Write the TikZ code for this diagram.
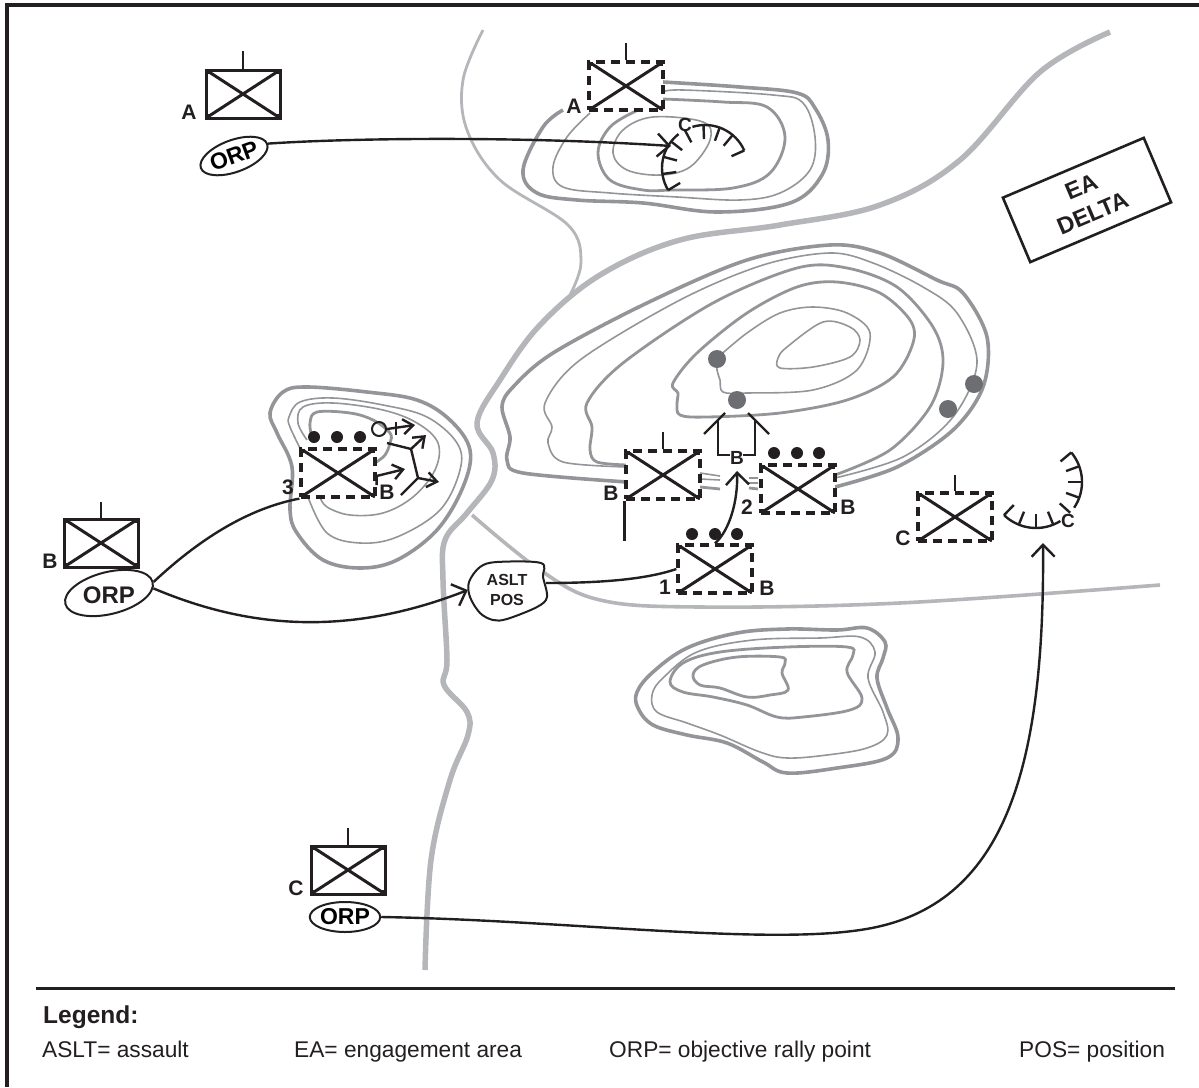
\documentclass[tikz,border=0pt]{standalone}
\usepackage{fontspec}
\setmainfont{Liberation Sans}
\usetikzlibrary{arrows.meta,shapes.geometric}
\definecolor{ink}{HTML}{231F20}
\definecolor{hill}{HTML}{939598}
\definecolor{road}{HTML}{B4B6B9}
\definecolor{spot}{HTML}{6D6E71}
\tikzset{
	thick hill/.style={draw=hill,line width=3.6pt},
	mid hill/.style={draw=hill,line width=2.8pt},
	thin hill/.style={draw=hill,line width=1.6pt},
	main road/.style={draw=road,line width=5.5pt},
	side road/.style={draw=road,line width=2.8pt},
	route/.style={draw=ink,line width=2.4pt,>={Straight Barb[length=12pt,width=23pt,line width=2.4pt]}},
	small route/.style={draw=ink,line width=2.4pt,>={Straight Barb[length=10pt,width=15pt,line width=2.4pt]}},
	mark line/.style={draw=ink,line width=2.4pt},
	unitbox/.style={draw=ink,line width=3pt,minimum width=74pt,minimum height=48pt,inner sep=0pt,
		path picture={\draw[ink,solid,line width=3pt] (path picture bounding box.north west)--(path picture bounding box.south east);
			\draw[ink,solid,line width=3pt] (path picture bounding box.north east)--(path picture bounding box.south west);
			\fill[ink] (path picture bounding box.north west) rectangle ++(4pt,-4pt);
			\fill[ink] (path picture bounding box.north east) rectangle ++(-4pt,-4pt);
			\fill[ink] (path picture bounding box.south west) rectangle ++(4pt,4pt);
			\fill[ink] (path picture bounding box.south east) rectangle ++(-4pt,4pt);}},
	dashbox/.style={unitbox,line width=3.2pt,dash pattern=on 9pt off 6pt},
	orpnode/.style={draw=ink,line width=2pt,ellipse,inner sep=0pt,font=\fontsize{23}{25}\bfseries\selectfont},
	tag/.style={text=ink,inner sep=0pt,font=\fontsize{21}{23}\bfseries\selectfont},
	small tag/.style={text=ink,inner sep=0pt,font=\fontsize{19}{21}\bfseries\selectfont},
	dot/.style={circle,fill=ink,inner sep=0pt,minimum size=12pt},
	graydot/.style={circle,fill=spot,inner sep=0pt,minimum size=18pt},
	legend/.style={anchor=base west,text=ink,inner sep=0pt,font=\fontsize{22.7}{25}\selectfont}
}
\begin{document}
\begin{tikzpicture}[x=1pt,y=-1pt]
	\useasboundingbox (0,0) rectangle (1199,1087);
	\draw[ink,line width=3.4pt] (7,1087)--(7,5)--(1199,5);
	\draw[ink,line width=3pt] (36,988)--(1175,988);
	% roads
	\draw[side road] plot[smooth,tension=0.6] coordinates {(483,30)(463,80)(467,130)(500,180)(568,225)(581,262)(570,295)};
	\draw[main road] plot[smooth,tension=0.6] coordinates {(1110,32)(1040,72)(960,160)(880,205)(780,225)(680,240)(600,275)(540,325)(500,380)(477,423)(493,453)(492,480)(467,513)(445,540)(443,580)(447,660)(444,685)(467,712)(468,735)(450,780)(431,860)(425,970)};
	\draw[draw=road,line width=3.6pt] plot[smooth,tension=0.6] coordinates {(472,515)(540,570)(600,600)(700,607)(900,603)(1160,585)};
	% top hill
	\draw[thick hill] plot[smooth,tension=0.6] coordinates {(563,110)(543,127)(523,170)(537,193)(577,200)(643,203)(717,212)(790,203)(822,175)(828,140)(815,108)(797,93)(740,87)(663,82)};
	\draw[thin hill] plot[smooth,tension=0.6] coordinates {(590,113)(567,137)(553,167)(563,187)(610,193)(677,197)(740,200)(780,193)(810,170)(815,137)(803,103)(773,95)(683,90)(663,92)};
	\draw[mid hill] plot[smooth,tension=0.6] coordinates {(663,99)(723,102)(767,107)(785,137)(770,173)(733,188)(673,190)(643,190)(610,180)(598,153)(610,127)(636,111)};
	\draw[thin hill] plot[smooth cycle,tension=0.6] coordinates {(613,153)(623,130)(653,117)(703,122)(710,140)(690,167)(660,175)(627,170)};
	% big hill
	\draw[thick hill] plot[smooth,tension=0.55] coordinates {(627,482)(523,473)(507,460)(510,437)(502,407)(513,387)(553,353)(647,303)(747,260)(830,245)(880,253)(937,280)(963,293)(987,337)(983,387)(953,430)(897,467)(835,487)};
	\draw[thin hill] plot[smooth,tension=0.55] coordinates {(627,467)(563,462)(548,443)(552,427)(545,403)(580,360)(680,300)(763,265)(830,253)(873,263)(923,287)(957,313)(977,363)(953,417)(903,457)(835,478)};
	\draw[mid hill] plot[smooth,tension=0.55] coordinates {(627,465)(597,462)(590,450)(592,427)(587,403)(623,363)(713,303)(797,268)(847,268)(897,287)(933,327)(943,363)(930,407)(890,450)(835,475)};
	\draw[mid hill] plot[smooth cycle,tension=0.55] coordinates {(680,415)(677,403)(678,393)(673,383)(697,353)(747,313)(797,287)(837,282)(880,293)(910,320)(913,343)(893,377)(847,400)(780,413)(707,417)};
	\draw[thin hill] plot[smooth,tension=0.55] coordinates {(717,358)(747,333)(780,313)(813,307)(847,313)(870,333)(857,370)(813,390)(747,393)(723,392)(720,380)(717,370)(717,358)};
	\draw[thin hill] plot[smooth cycle,tension=0.55] coordinates {(778,358)(787,347)(823,322)(850,327)(860,340)(850,357)(813,367)(780,368)};
	\draw[thin hill] (700,473)--(720,476) (700,479)--(720,480) (749,478)--(758,478) (749,483)--(758,483);
	\draw[mid hill] (700,487)--(720,489) (749,488)--(758,489);
	% left hill
	\draw[thick hill] plot[smooth cycle,tension=0.6] coordinates {(270,413)(283,392)(307,387)(367,392)(417,400)(450,420)(470,450)(463,487)(437,530)(397,560)(360,568)(323,560)(297,533)(290,510)(292,467)(277,433)};
	\draw[thin hill] plot[smooth,tension=0.6] coordinates {(300,448)(290,427)(289,417)(300,402)(333,398)(383,405)(427,417)(457,443)(460,470)(440,510)(397,537)(360,543)(327,533)(308,497)};
	\draw[thin hill] plot[smooth,tension=0.6] coordinates {(307,440)(298,423)(303,407)(333,403)(383,410)(417,423)(438,443)(435,470)(413,497)(383,513)(350,515)(327,507)(320,497)};
	\draw[mid hill] plot[smooth,tension=0.6] coordinates {(312,438)(310,423)(317,412)(350,413)(373,420)(390,433)(390,443)(385,455)(375,463)};
	% bottom hill
	\draw[thick hill] plot[smooth cycle,tension=0.6] coordinates {(637,692)(653,672)(687,648)(737,633)(787,629)(837,630)(867,628)(885,642)(883,658)(877,678)(887,708)(898,738)(887,758)(837,768)(787,773)(763,762)(727,743)(687,735)(653,725)(638,708)};
	\draw[thin hill] plot[smooth cycle,tension=0.6] coordinates {(652,695)(663,678)(697,652)(753,640)(820,638)(860,637)(875,652)(868,678)(883,712)(887,735)(867,748)(827,755)(787,758)(760,752)(720,735)(687,723)(657,712)};
	\draw[mid hill] plot[smooth cycle,tension=0.6] coordinates {(670,682)(683,663)(720,652)(787,647)(847,647)(853,655)(847,672)(862,698)(850,710)(803,717)(777,717)(747,705)(713,697)(683,692)};
	\draw[mid hill] plot[smooth cycle,tension=0.6] coordinates {(693,675)(703,665)(737,657)(780,657)(785,663)(782,673)(788,690)(770,695)(747,697)(720,688)(700,685)};
	% unit symbols
	\node[unitbox,fill=white] (unitA) at (243,94) {};
	\node[unitbox,fill=white] (unitB) at (101,543) {};
	\node[unitbox,fill=white] (unitC) at (348,870) {};
	\node[dashbox,fill=white] (unitAobj) at (626,86) {};
	\node[dashbox,fill=white] (unitBleft) at (663,475) {};
	\node[dashbox,fill=white] (unitBright) at (798,489) {};
	\node[dashbox,fill=white] (unitBone) at (715,569) {};
	\node[dashbox] (unitBhill) at (338,473) {};
	\node[dashbox,fill=white] (unitCobj) at (955,517) {};
	\foreach \n/\h in {unitA/18,unitB/16,unitC/17,unitAobj/17,unitBleft/17,unitCobj/16}
		\draw[mark line] (\n.north)--++(0,-\h);
	% dots over the units
	\foreach \x in {314,337,360} \node[dot] at (\x,437) {};
	\foreach \x in {774,797,819} \node[dot] at (\x,453) {};
	\foreach \x in {692,715,737} \node[dot] at (\x,534) {};
	\node[graydot] (spot1) at (717,359) {};
	\node[graydot] (spot2) at (737,400) {};
	\node[graydot] (spot3) at (974,384) {};
	\node[graydot] (spot4) at (948,409) {};
	% tags
	\node[tag] (tagA) at (189,112) {A};
	\node[tag] (tagB) at (50,561) {B};
	\node[tag] (tagC) at (296,888) {C};
	\node[tag] (tagAobj) at (574,106) {A};
	\node[tag] (tagBleft) at (611,493) {B};
	\node[tag] (tagBright) at (848,507) {B};
	\node[tag] (tagTwo) at (747,507) {2};
	\node[tag] (tagOne) at (665,587) {1};
	\node[tag] (tagBone) at (767,588) {B};
	\node[tag] (tagBhill) at (387,492) {B};
	\node[tag] (tagCobj) at (903,538) {C};
	\node[small tag] (tagBlock) at (737,458) {B};
	\node[small tag] (tagCone) at (685,125) {C};
	\node[small tag] (tagCtwo) at (1068,521) {C};
	% rally points
	\node[orpnode,minimum width=68pt,minimum height=32pt,rotate=20] (orpA) at (234,156) {ORP};
	\node[orpnode,minimum width=90pt,minimum height=42pt,rotate=14] (orpB) at (109,593) {};
	\node[font=\fontsize{24}{26}\bfseries\selectfont,text=ink] (orpBtxt) at (109,595) {ORP};
	\node[orpnode,minimum width=70pt,minimum height=30pt] (orpC) at (345,917) {ORP};
	% assault position
	\draw[draw=ink,line width=2pt,fill=white] plot[smooth cycle,tension=0.55] coordinates {(469,582)(480,567)(497,562)(541,563)(543,577)(547,597)(537,607)(507,619)(493,620)(480,613)(470,597)};
	\node[align=center,text=ink,inner sep=0pt,minimum width=78pt,minimum height=58pt,font=\fontsize{16}{20}\bfseries\selectfont] (asltpos) at (507,590) {ASLT\\POS};
	% engagement area
	\node[draw=ink,line width=2.6pt,fill=white,rotate=23,minimum width=153pt,minimum height=70pt,align=center,text=ink,font=\fontsize{23.5}{29}\bfseries\selectfont] (eadelta) at (1087,200) {EA\\DELTA};
	% routes
	\coordinate (tipA) at (671,146);
	\coordinate (tipC) at (1043,543);
	\coordinate (tipB) at (737,471);
	\draw[route,->] (orpA.east)..controls (350,138) and (520,136)..(tipA);
	\draw[route] (orpB.east)..controls (190,548) and (240,510)..(unitBhill.south west);
	\draw[route,->] (orpB.-8)..controls (240,625) and (340,640)..(asltpos.west);
	\draw[route] (asltpos.east)++(0,-7)..controls (610,583) and (650,578)..(unitBone.west);
	\draw[route,->] (unitBone.north)..controls (730,530) and (738,500)..(tipB);
	\draw[route,->] (orpC.east)..controls (560,920) and (760,945)..(860,930)..controls (1000,910) and (1045,780)..(tipC);
	\node[tag] (tagThree) at (288,487) {3};
	% obstacle arcs
	\begin{scope}[shift={(705,168)}]
		\draw[mark line] (211:43pt) arc[start angle=211,end angle=128,radius=43pt];
		\draw[mark line] (107:43pt) arc[start angle=107,end angle=24,radius=43pt];
		\foreach \a in {211,188,165,142,118,92,70,50,24}
			\draw[mark line] (\a:43pt)--(\a:29pt);
	\end{scope}
	\begin{scope}[shift={(1036,482)}]
		\draw[mark line] (226:46pt) arc[start angle=226,end angle=302,radius=46pt];
		\draw[mark line] (326:46pt) arc[start angle=326,end angle=400,radius=46pt];
		\foreach \a in {226,248,270,292,318,340,360,380,400}
			\draw[mark line] (\a:46pt)--(\a:32pt);
	\end{scope}
	% block marks
	\draw[mark line] (unitBleft.south west)--++(0,40);
	\draw[mark line] (730,455)--(718,455)--(718,420);
	\draw[mark line] (704,434)--(725,413);
	\draw[mark line] (743,455)--(755,455)--(755,420);
	\draw[mark line] (748,413)--(769,434);
	% moves on the left hill
	\node[draw=ink,line width=2pt,circle,inner sep=0pt,minimum size=14pt] (ocirc) at (379,429) {};
	\coordinate (forkA) at (411,449);
	\coordinate (forkB) at (418,478);
	\draw[small route,->] (ocirc.east)--(415,425);
	\draw[mark line] (396,422)--(396,435);
	\draw[small route,->] (forkA)--(426,435);
	\draw[mark line] (387,443)--(forkA)--(forkB)--(401,495);
	\draw[small route,->] (forkB)--(439,482);
	\draw[small route,->] (unitBhill.east)++(0,12)--++(0,-9)--(405,469);
	% legend
	\node[legend,font=\fontsize{24.5}{27}\bfseries\selectfont] (legendhead) at (43,1023) {Legend:};
	\node[legend] (legendA) at (42,1057) {ASLT= assault};
	\node[legend] (legendB) at (294,1057) {EA= engagement area};
	\node[legend] (legendC) at (609,1057) {ORP= objective rally point};
	\node[legend] (legendD) at (1019,1057) {POS= position};
\end{tikzpicture}
\end{document}
